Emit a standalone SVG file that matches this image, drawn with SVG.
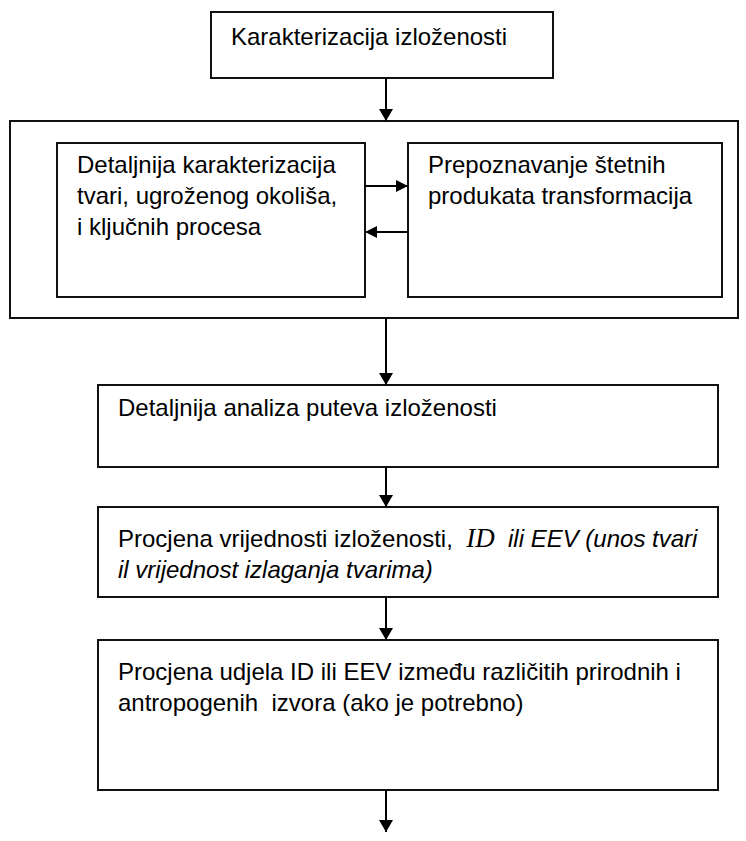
<svg xmlns="http://www.w3.org/2000/svg" width="746" height="841" viewBox="0 0 746 841">
  <style>
    .box { fill: #ffffff; stroke: #111111; stroke-width: 2; }
    .txt { font-family: "Liberation Sans", Arial, sans-serif; font-size: 24px; fill: #000000; }
    .it { font-style: italic; }
    .serif { font-family: "Liberation Serif", "Times New Roman", serif; font-style: italic; font-size: 27px; }
    .link { stroke: #000000; stroke-width: 2; fill: none; }
  </style>
  <defs>
    <marker id="arrow" viewBox="0 0 12 14" refX="12" refY="7" markerWidth="12" markerHeight="14" markerUnits="userSpaceOnUse" orient="auto">
      <path d="M0,0 L12,7 L0,14 Z" fill="#000000"/>
    </marker>
    <marker id="arrowSmall" viewBox="0 0 12 12" refX="12" refY="6" markerWidth="12" markerHeight="12" markerUnits="userSpaceOnUse" orient="auto">
      <path d="M0,0 L12,6 L0,12 Z" fill="#000000"/>
    </marker>
  </defs>

  <!-- Process boxes -->
  <g id="node-karakterizacija">
    <rect class="box" x="211" y="12" width="342" height="66"/>
    <text class="txt" x="231" y="45">Karakterizacija izloženosti</text>
  </g>

  <g id="node-grupa">
    <rect class="box" x="10" y="121" width="728" height="197"/>
  </g>

  <g id="node-detaljnija-karakterizacija">
    <rect class="box" x="57" y="143" width="308" height="154"/>
    <text class="txt" x="77" y="173">Detaljnija karakterizacija</text>
    <text class="txt" x="77" y="204">tvari, ugroženog okoliša,</text>
    <text class="txt" x="77" y="235">i ključnih procesa</text>
  </g>

  <g id="node-prepoznavanje">
    <rect class="box" x="408" y="143" width="314" height="154"/>
    <text class="txt" x="428" y="173">Prepoznavanje štetnih</text>
    <text class="txt" x="428" y="204">produkata transformacija</text>
  </g>

  <g id="node-analiza-puteva">
    <rect class="box" x="98" y="385" width="620" height="82"/>
    <text class="txt" x="118" y="416">Detaljnija analiza puteva izloženosti</text>
  </g>

  <g id="node-procjena-vrijednosti">
    <rect class="box" x="98" y="507" width="620" height="90"/>
    <text class="txt" x="118" y="547" xml:space="preserve">Procjena vrijednosti izloženosti,  <tspan class="serif">ID</tspan><tspan class="it">  ili EEV (unos tvari</tspan></text>
    <text class="txt it" x="118" y="578">il vrijednost izlaganja tvarima)</text>
  </g>

  <g id="node-procjena-udjela">
    <rect class="box" x="98" y="640" width="620" height="150"/>
    <text class="txt" x="118" y="680">Procjena udjela ID ili EEV između različitih prirodnih i</text>
    <text class="txt" x="118" y="711" xml:space="preserve">antropogenih  izvora (ako je potrebno)</text>
  </g>

  <!-- Connectors -->
  <g id="connectors">
    <line class="link" x1="386" y1="78" x2="386" y2="121" marker-end="url(#arrow)"/>
    <line class="link" x1="365" y1="186" x2="408" y2="186" marker-end="url(#arrowSmall)"/>
    <line class="link" x1="408" y1="232" x2="365" y2="232" marker-end="url(#arrowSmall)"/>
    <line class="link" x1="386" y1="318" x2="386" y2="385" marker-end="url(#arrow)"/>
    <line class="link" x1="386" y1="467" x2="386" y2="507" marker-end="url(#arrow)"/>
    <line class="link" x1="386" y1="597" x2="386" y2="640" marker-end="url(#arrow)"/>
    <line class="link" x1="386" y1="790" x2="386" y2="832" marker-end="url(#arrow)"/>
  </g>
</svg>
